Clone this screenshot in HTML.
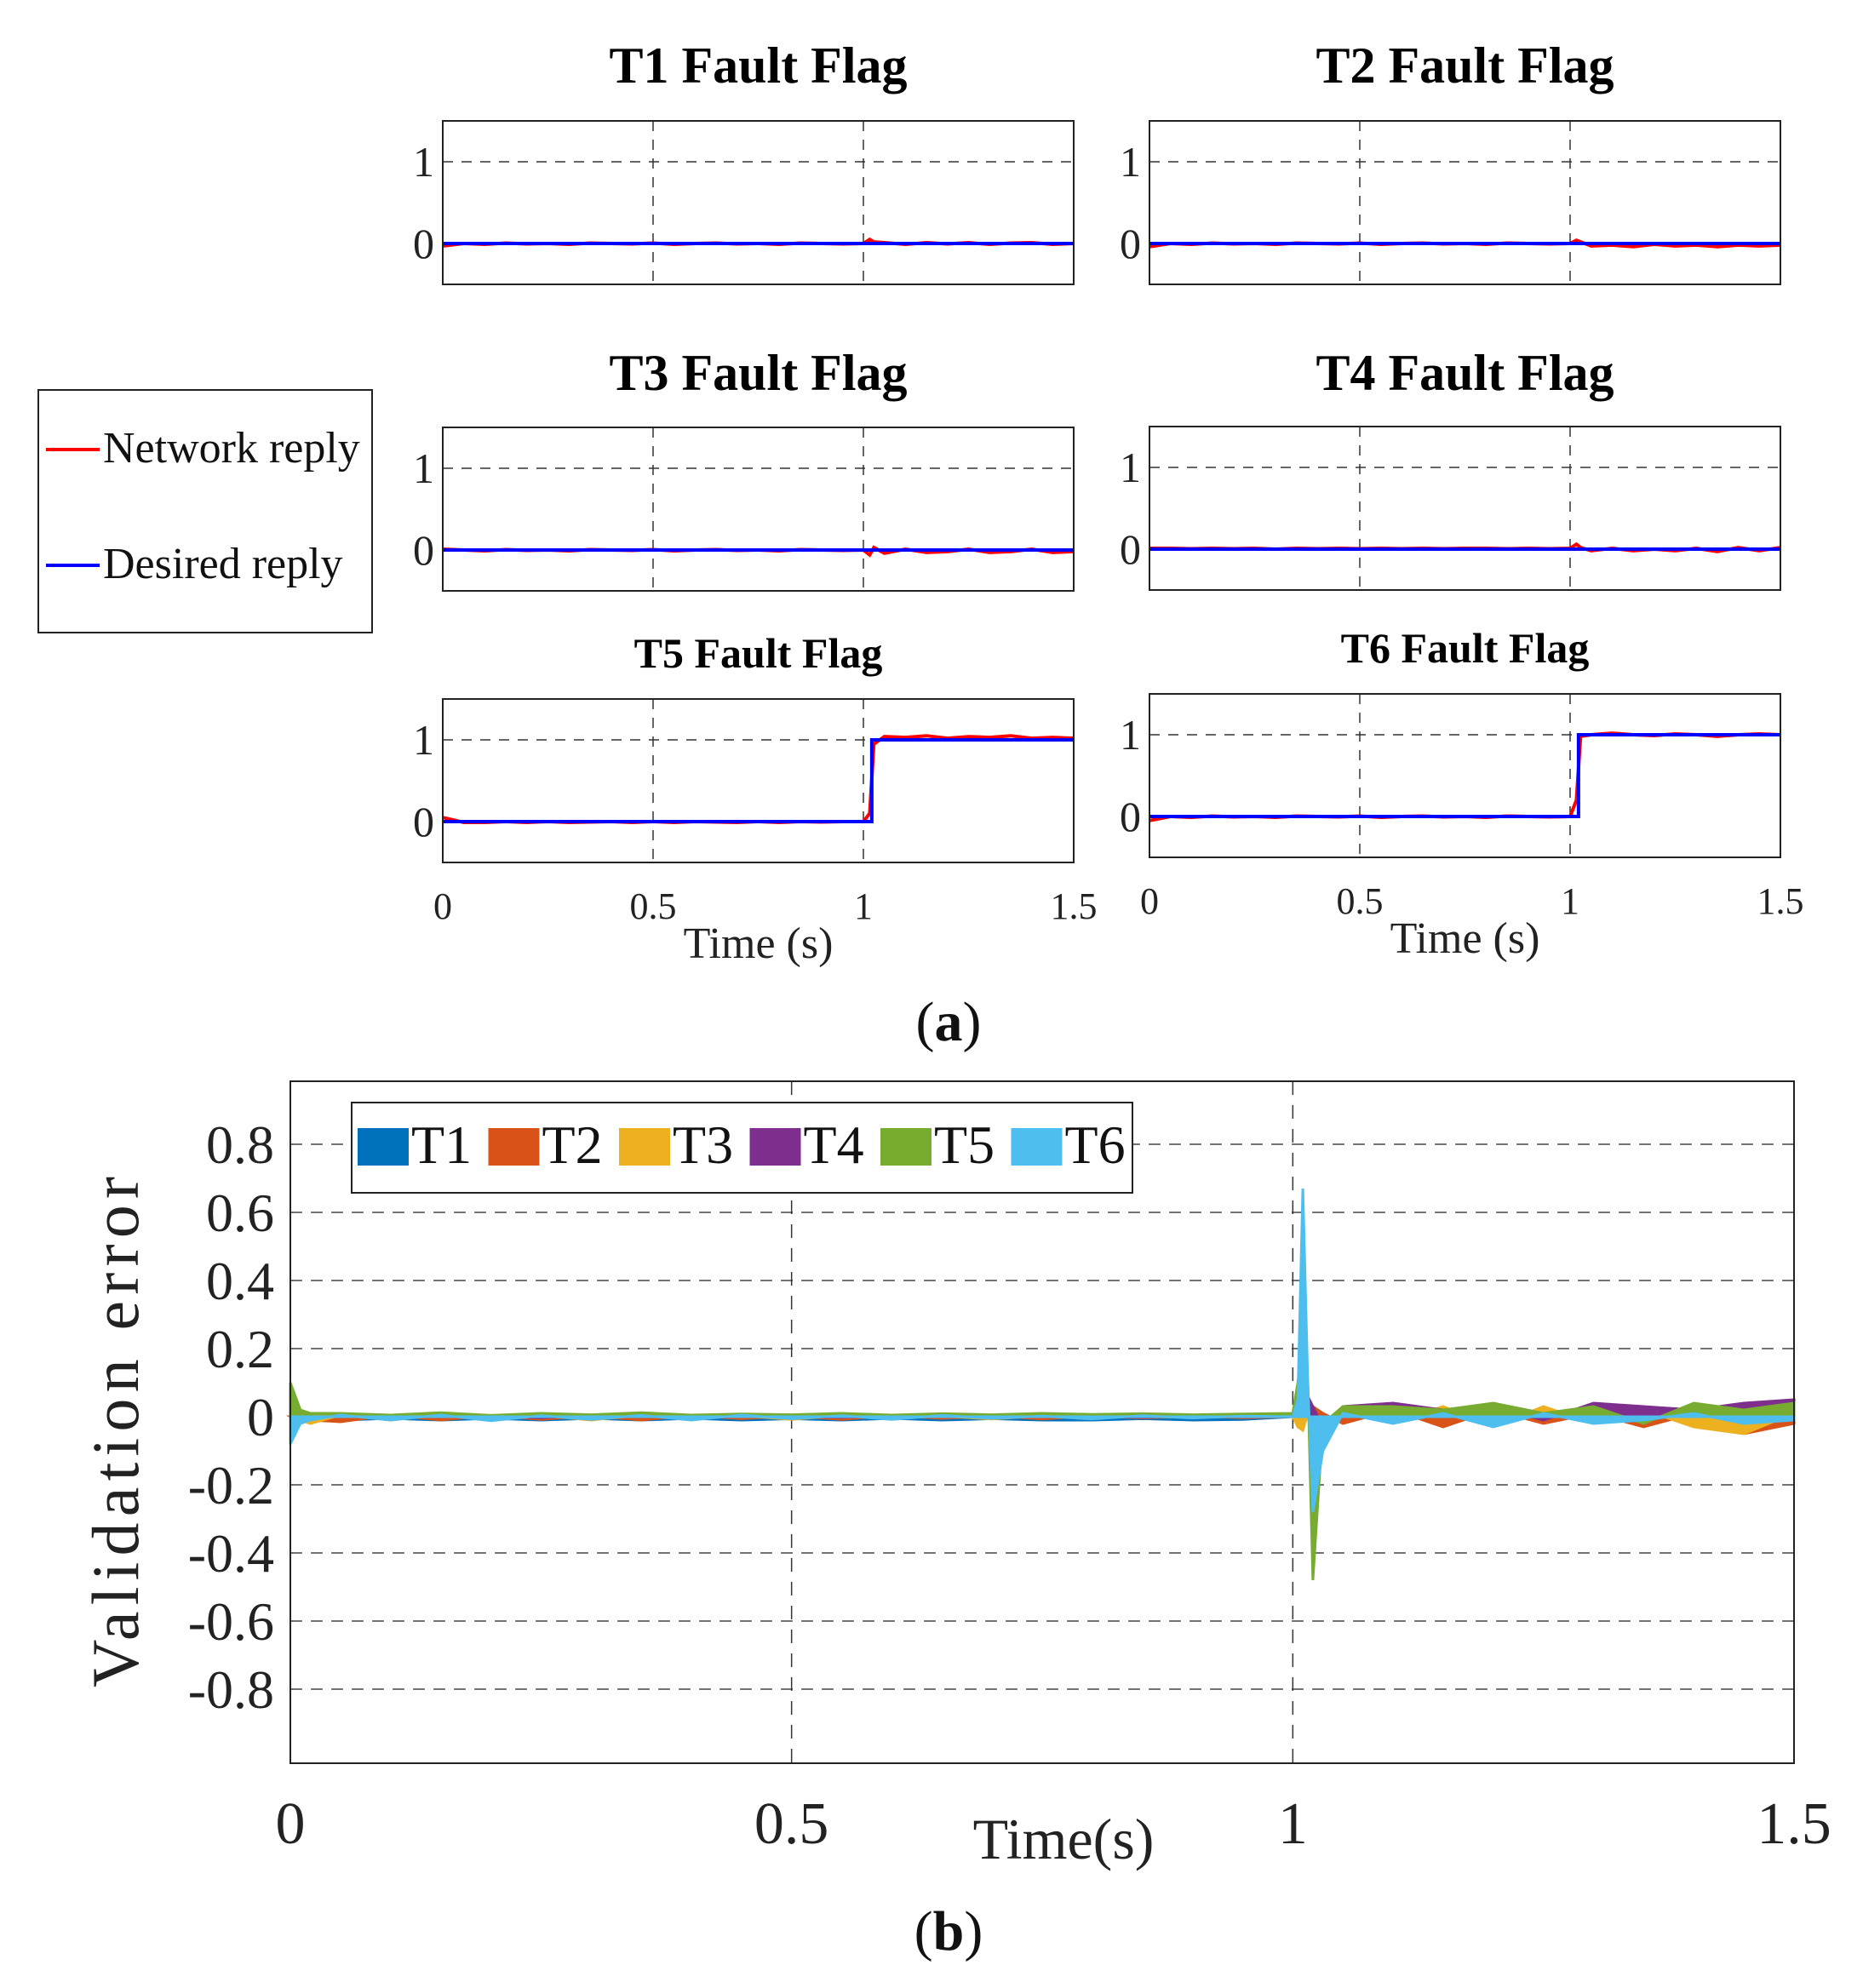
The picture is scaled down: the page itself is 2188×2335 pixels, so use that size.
<!DOCTYPE html>
<html><head><meta charset="utf-8"><style>
html,body{margin:0;padding:0;background:#fff;}
svg{display:block;font-family:"Liberation Serif",serif;}
</style></head><body>
<svg id="fig" width="2188" height="2335" viewBox="0 0 2188 2335" xmlns="http://www.w3.org/2000/svg"></svg>
<script>
// ---------- Panel (a) data ----------
const panelNames = ["T1 Fault Flag","T2 Fault Flag","T3 Fault Flag","T4 Fault Flag","T5 Fault Flag","T6 Fault Flag"];
const netT = [0,0.05,0.1,0.15,0.2,0.25,0.3,0.35,0.4,0.45,0.5,0.55,0.6,0.65,0.7,0.75,0.8,0.85,0.9,0.95,1.0,1.015,1.025,1.05,1.1,1.15,1.2,1.25,1.3,1.35,1.4,1.45,1.5];
const netT1 = [-0.03,0.0,-0.01,0.005,-0.005,0.0,-0.01,0.005,0,-0.005,0.005,-0.01,0,0.005,-0.005,0,-0.01,0.005,0,-0.005,0,0.05,0.02,0.01,-0.01,0.01,-0.005,0.01,-0.01,0.005,0.01,-0.01,0.0];
const netT2 = [-0.04,0.0,-0.01,0.005,-0.005,0.0,-0.01,0.005,0,-0.005,0.005,-0.01,0,0.005,-0.005,0,-0.01,0.005,0,-0.005,0,0.04,0.02,-0.03,-0.02,-0.04,-0.01,-0.03,-0.02,-0.04,-0.02,-0.03,-0.02];
const netT3 = [0.01,0.0,-0.01,0.005,-0.005,0.0,-0.01,0.005,0,-0.005,0.005,-0.01,0,0.005,-0.005,0,-0.01,0.005,0,-0.005,0,-0.06,0.03,-0.04,0.01,-0.03,-0.02,0.01,-0.03,-0.02,0.01,-0.03,-0.02];
const netT4 = [0.01,0.01,0.005,0.01,0.005,0.01,0.0,0.01,0.005,0.01,0.005,0.01,0.005,0.01,0.005,0.01,0.01,0.005,0.01,0.005,0.01,0.06,0.02,-0.02,0.01,-0.02,0,-0.02,0.01,-0.03,0.02,-0.02,0.02];
const netT5 = [0.05,-0.01,-0.01,0.0,-0.01,0.0,-0.01,-0.005,0,-0.01,0,-0.01,0,-0.005,-0.01,0,-0.01,0,-0.005,0,0,0.1,0.95,1.04,1.03,1.05,1.02,1.04,1.03,1.05,1.02,1.03,1.02];
const netT6 = [-0.05,0.0,-0.01,0.005,-0.005,0.0,-0.01,0.005,0,-0.005,0.005,-0.01,0,0.005,-0.005,0,-0.01,0.005,0,-0.005,0,0.2,0.98,1.0,1.02,1.0,0.99,1.01,1.0,0.98,1.0,1.01,1.0];
const netSeries = [netT1,netT2,netT3,netT4,netT5,netT6];
const desiredStep = [null,null,null,null,1.02,1.02];
const flagXTicks = [0,0.5,1,1.5];
const flagXTickLabels = ["0","0.5","1","1.5"];

// ---------- Panel (b) data ----------
const errT = [0,0.01,0.02,0.05,0.1,0.15,0.2,0.25,0.3,0.35,0.4,0.45,0.5,0.55,0.6,0.65,0.7,0.75,0.8,0.85,0.9,0.95,1.0,1.005,1.01,1.015,1.02,1.03,1.05,1.1,1.15,1.2,1.25,1.3,1.35,1.4,1.45,1.5];
const errT1 = [0,-0.01,-0.01,-0.01,-0.005,-0.01,-0.005,-0.01,-0.005,-0.01,-0.005,-0.01,-0.006,-0.01,-0.005,-0.01,-0.006,-0.01,-0.01,-0.006,-0.01,-0.008,0,0.02,0.03,0.02,0.01,-0.01,0.01,-0.01,0.01,-0.005,0.01,-0.01,0.005,0.01,-0.01,0];
const errT2 = [0,-0.02,-0.01,-0.015,0.005,-0.01,0.004,-0.008,0.003,-0.01,0.004,-0.006,0.003,-0.008,0.004,-0.005,0.003,-0.007,0.003,-0.004,0.002,-0.003,0,0.01,0.03,0.05,0.03,0.01,-0.02,0.02,-0.03,0.02,-0.02,0.01,-0.03,0.01,-0.05,-0.02];
const errT3 = [0,-0.01,-0.02,0.005,-0.01,0.006,-0.008,0.004,-0.01,0.005,-0.006,0.003,-0.008,0.004,-0.005,0.002,-0.007,0.003,-0.004,0.002,-0.003,0.002,0,-0.03,-0.04,0.01,0.02,-0.03,0.02,-0.02,0.03,-0.03,0.03,-0.02,0.02,-0.03,-0.05,0.01];
const errT4 = [0,0,0.005,0.003,-0.002,0.004,0.002,-0.003,0.005,0.002,-0.002,0.004,0.001,-0.002,0.003,0.002,-0.001,0.004,0.002,-0.002,0.003,0.001,0.002,0.09,0.08,0.06,0.03,-0.03,0.03,0.04,0.02,0.03,-0.01,0.04,0.03,0.02,0.04,0.05];
const errT5 = [0.1,0.02,0.01,0.01,0.005,0.012,0.004,0.01,0.006,0.012,0.005,0.008,0.006,0.01,0.005,0.009,0.006,0.01,0.007,0.009,0.006,0.008,0.01,0.1,0.2,0.1,-0.48,-0.02,0.03,0.03,0.02,0.04,0.01,0.03,-0.02,0.04,0.02,0.04];
const errT6 = [-0.08,-0.02,-0.01,0.005,-0.01,0.005,-0.012,0.003,-0.008,0.004,-0.01,0.005,-0.006,0.003,-0.008,0.004,-0.005,0.002,-0.007,0.003,-0.004,0.002,0.0,0.05,0.67,0.1,-0.28,-0.1,0.01,-0.02,0.01,-0.03,0.01,-0.02,-0.01,0.01,-0.02,-0.01];
const errSeries = [errT1,errT2,errT3,errT4,errT5,errT6];
const errNames = ["T1","T2","T3","T4","T5","T6"];
const errColors = ["#0072BD","#D95319","#EDB120","#7E2F8E","#77AC30","#4DBEEE"];
const errYTicks = [0.8,0.6,0.4,0.2,0,-0.2,-0.4,-0.6,-0.8];
const errYTickLabels = ["0.8","0.6","0.4","0.2","0","-0.2","-0.4","-0.6","-0.8"];
const errXTicks = [0,0.5,1,1.5];
const errXTickLabels = ["0","0.5","1","1.5"];

const NS = "http://www.w3.org/2000/svg";
const svg = document.getElementById("fig");
function mk(tag, attrs, parent, text){
  const e = document.createElementNS(NS, tag);
  for (const k in attrs) e.setAttribute(k, attrs[k]);
  if (text !== undefined) e.textContent = text;
  (parent||svg).appendChild(e);
  return e;
}

// ---------- Panel (a) ----------
const panelLeft = [520,1350,520,1350,520,1350];
const panelTop = [142,142,502,501,821,815];
const titleY = [97,97,458,458,784,778];
const titleSize = [60,60,60,60,50,50];
const PW = 741, PH = 192;
panelNames.forEach((name,i)=>{
  const L = panelLeft[i], T = panelTop[i];
  const xs = t => L + t/1.5*PW;
  const ys = v => T + (1.5 - v)/2*PH;
  const g = mk("g",{});
  
  
  const tt = mk("text",{x:L+PW/2,y:titleY[i],"text-anchor":"middle","font-size":titleSize[i],"font-weight":"bold"},g,name);
  
  
  // grid
  [0.5,1].forEach(t=>mk("line",{x1:xs(t),x2:xs(t),y1:T,y2:T+PH,stroke:"#333","stroke-width":1.5,"stroke-dasharray":"12,10"},g));
  mk("line",{x1:L,x2:L+PW,y1:ys(1),y2:ys(1),stroke:"#333","stroke-width":1.5,"stroke-dasharray":"12,10"},g);
  // y tick labels
  [[1,"1"],[0,"0"]].forEach(([v,s])=>{
    const tl = mk("text",{x:L-10,y:ys(v)+17,"text-anchor":"end","font-size":50,fill:"#222"},g,s);
    
    
  });
  // network reply
  const d = netSeries[i].map((v,k)=>(k?"L":"M")+xs(netT[k]).toFixed(1)+","+ys(v).toFixed(1)).join("");
  const nl = mk("path",{d:d,fill:"none",stroke:"#ff0000","stroke-width":4},g);
  
  
  // desired reply
  let dd;
  if (desiredStep[i]===null) dd = "M"+xs(0)+","+ys(0)+"L"+xs(1.5)+","+ys(0);
  else dd = "M"+xs(0)+","+ys(0)+"L"+xs(desiredStep[i])+","+ys(0)+"L"+xs(desiredStep[i])+","+ys(1)+"L"+xs(1.5)+","+ys(1);
  const dl = mk("path",{d:dd,fill:"none",stroke:"#0000ff","stroke-width":4},g);
  
  
  mk("rect",{x:L,y:T,width:PW,height:PH,fill:"none",stroke:"#222","stroke-width":2},g);
  if (i>=4){
    flagXTicks.forEach((t,k)=>{
      const xl = mk("text",{x:xs(t),y:T+PH+66,"text-anchor":"middle","font-size":44,fill:"#222"},g,flagXTickLabels[k]);
      
      
    });
    const xt = mk("text",{x:L+PW/2+0,y:T+PH+112,"text-anchor":"middle","font-size":52,fill:"#222"},g,"Time (s)");
    
    
  }
});
// legend (a)
const lg = mk("g",{});


mk("rect",{x:45,y:458,width:392,height:285,fill:"#fff",stroke:"#222","stroke-width":2},lg);
mk("line",{x1:54,x2:117,y1:528,y2:528,stroke:"#ff0000","stroke-width":4},lg);
const le1 = mk("text",{x:121,y:543,"font-size":52,fill:"#111"},lg,"Network reply");


mk("line",{x1:54,x2:117,y1:664,y2:664,stroke:"#0000ff","stroke-width":4},lg);
const le2 = mk("text",{x:121,y:679,"font-size":52,fill:"#111"},lg,"Desired reply");


const la = mk("text",{x:1114,y:1222,"text-anchor":"middle","font-size":66,fill:"#111"});
la.innerHTML = '(<tspan font-weight="bold">a</tspan>)';



// ---------- Panel (b) ----------
const BL=341, BR=2107, BT=1270, BB=2071;
const bx = t => BL + t/1.5*(BR-BL);
const by = v => 1664 - v*400;
const gb = mk("g",{});


errYTicks.forEach((v,k)=>{
  mk("line",{x1:BL,x2:BR,y1:by(v),y2:by(v),stroke:"#444","stroke-width":1.5,"stroke-dasharray":"14,10"},gb);
  const yl = mk("text",{x:322,y:by(v)+22,"text-anchor":"end","font-size":64,fill:"#222"},gb,errYTickLabels[k]);
  
  
});
[0.5,1].forEach(t=>mk("line",{x1:bx(t),x2:bx(t),y1:BT,y2:BB,stroke:"#333","stroke-width":1.5,"stroke-dasharray":"16,12"},gb));
errSeries.forEach((s,i)=>{
  let d = "M"+bx(errT[0])+","+by(0);
  s.forEach((v,k)=>{ d += "L"+bx(errT[k]).toFixed(1)+","+by(v).toFixed(1); });
  d += "L"+bx(errT[errT.length-1])+","+by(0)+"Z";
  const a = mk("path",{d:d,fill:errColors[i],stroke:errColors[i],"stroke-width":3},gb);
  
  
});
mk("rect",{x:BL,y:BT,width:BR-BL,height:BB-BT,fill:"none",stroke:"#222","stroke-width":2},gb);
errXTicks.forEach((t,k)=>{
  const xl = mk("text",{x:bx(t),y:2165,"text-anchor":"middle","font-size":70,fill:"#222"},gb,errXTickLabels[k]);
  
  
});
const bxt = mk("text",{x:1249,y:2183,"text-anchor":"middle","font-size":68,fill:"#222"},gb,"Time(s)");


const yt = mk("text",{x:0,y:0,"text-anchor":"middle","font-size":78,fill:"#222",transform:"translate(162,1682) rotate(-90)",textLength:600,lengthAdjust:"spacing"},gb,"Validation error");


// legend (b)
const lb = mk("g",{});


mk("rect",{x:413,y:1295,width:917,height:106,fill:"#fff",stroke:"#222","stroke-width":2},lb);
errNames.forEach((n,i)=>{
  const x0 = 420 + i*153.5;
  mk("rect",{x:x0,y:1325,width:60,height:44,fill:errColors[i]},lb);
  const t = mk("text",{x:x0+63,y:1366,"font-size":64,fill:"#111"},lb,n);
  
  
});
const lbb = mk("text",{x:1114,y:2290,"text-anchor":"middle","font-size":66,fill:"#111"});
lbb.innerHTML = '(<tspan font-weight="bold">b</tspan>)';


</script>
</body></html>
